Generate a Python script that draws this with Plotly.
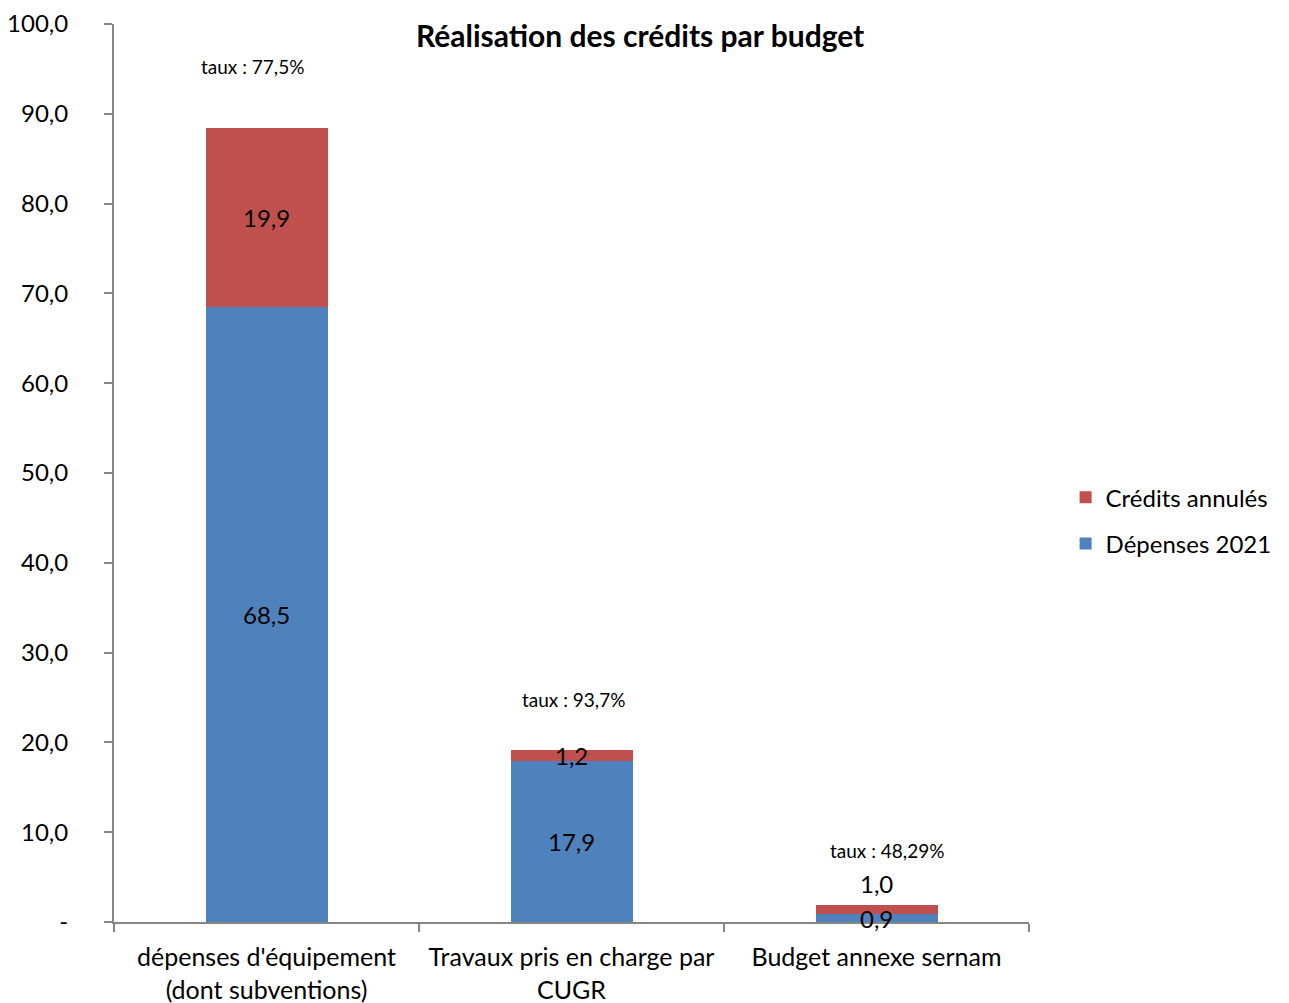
import plotly.graph_objects as go

categories = ["dépenses d'équipement<br>(dont subventions)",
              "Travaux pris en charge par<br>CUGR",
              "Budget annexe sernam"]
depenses_2021 = [68.5, 17.9, 0.9]
credits_annules = [19.9, 1.2, 1.0]
taux_labels = ["taux : 77,5%", "taux : 93,7%", "taux : 48,29%"]
y_tickvals = [0, 10, 20, 30, 40, 50, 60, 70, 80, 90, 100]
y_ticktext = ["-", "10,0", "20,0", "30,0", "40,0", "50,0", "60,0", "70,0", "80,0", "90,0", "100,0"]

FONT = "Lato, 'Open Sans', sans-serif"
BLUE = "#4F81BD"
RED = "#C0504D"
AXIS = "#868686"


def fr(v):
    return f"{v:.1f}".replace(".", ",")


fig = go.Figure()
fig.add_trace(go.Bar(x=categories, y=depenses_2021, name="Dépenses 2021",
                     marker=dict(color=BLUE, line=dict(width=0)),
                     legendgroup="a", legendrank=2, hoverinfo="y"))
fig.add_trace(go.Bar(x=categories, y=credits_annules, name="Crédits annulés",
                     marker=dict(color=RED, line=dict(width=0)),
                     legendgroup="b", legendrank=1, hoverinfo="y"))

annotations = []
blue_shift = [0, 0, -1]
red_shift = [0, 0, 21]
taux_shift = [62, 51, 54]
taux_xshift = [-14, 2, 10]
for i, c in enumerate(categories):
    b = depenses_2021[i]
    r = credits_annules[i]
    annotations.append(dict(x=c, y=b / 2, text=fr(b), showarrow=False,
                            yshift=blue_shift[i],
                            font=dict(family=FONT, size=24, color="black")))
    annotations.append(dict(x=c, y=b + r / 2 if i < 2 else b + r, text=fr(r),
                            showarrow=False, yshift=red_shift[i],
                            font=dict(family=FONT, size=24, color="black")))
    annotations.append(dict(x=c, y=b + r, text=taux_labels[i], showarrow=False,
                            yshift=taux_shift[i], xshift=taux_xshift[i],
                            font=dict(family=FONT, size=19, color="black")))

fig.update_layout(
    barmode="stack",
    bargap=0.6,
    width=1289, height=1003,
    margin=dict(l=106, r=268, t=16, b=89, autoexpand=False),
    paper_bgcolor="white", plot_bgcolor="white",
    font=dict(family=FONT, size=24, color="black"),
    title=dict(text="<b>Réalisation des crédits par budget</b>",
               x=0.575, xref="paper", xanchor="center",
               y=1 - 28 / 1003, yref="container", yanchor="middle",
               font=dict(family=FONT, size=30, color="black")),
    legend=dict(x=1.04, xanchor="left", y=0.447, yanchor="middle",
                traceorder="grouped", tracegroupgap=12,
                font=dict(family=FONT, size=24, color="black"),
                itemwidth=30, bgcolor="rgba(0,0,0,0)"),
    annotations=annotations,
    showlegend=True,
)
fig.update_xaxes(showline=True, linecolor=AXIS, linewidth=2,
                 ticks="outside", tickson="boundaries", ticklen=8,
                 tickcolor=AXIS, tickwidth=2, automargin=False,
                 ticklabelstandoff=12, ticklabeloverflow="allow",
                 tickfont=dict(family=FONT, size=25, color="black"),
                 showgrid=False, zeroline=False)
fig.update_yaxes(range=[0, 100], tickvals=y_tickvals, ticktext=y_ticktext,
                 showline=True, linecolor=AXIS, linewidth=2,
                 ticks="outside", ticklen=8, tickcolor=AXIS, tickwidth=2,
                 ticklabelstandoff=31, automargin=False,
                 ticklabeloverflow="allow",
                 tickfont=dict(family=FONT, size=24, color="black"),
                 showgrid=False, zeroline=False)

fig.write_html("out.html")
